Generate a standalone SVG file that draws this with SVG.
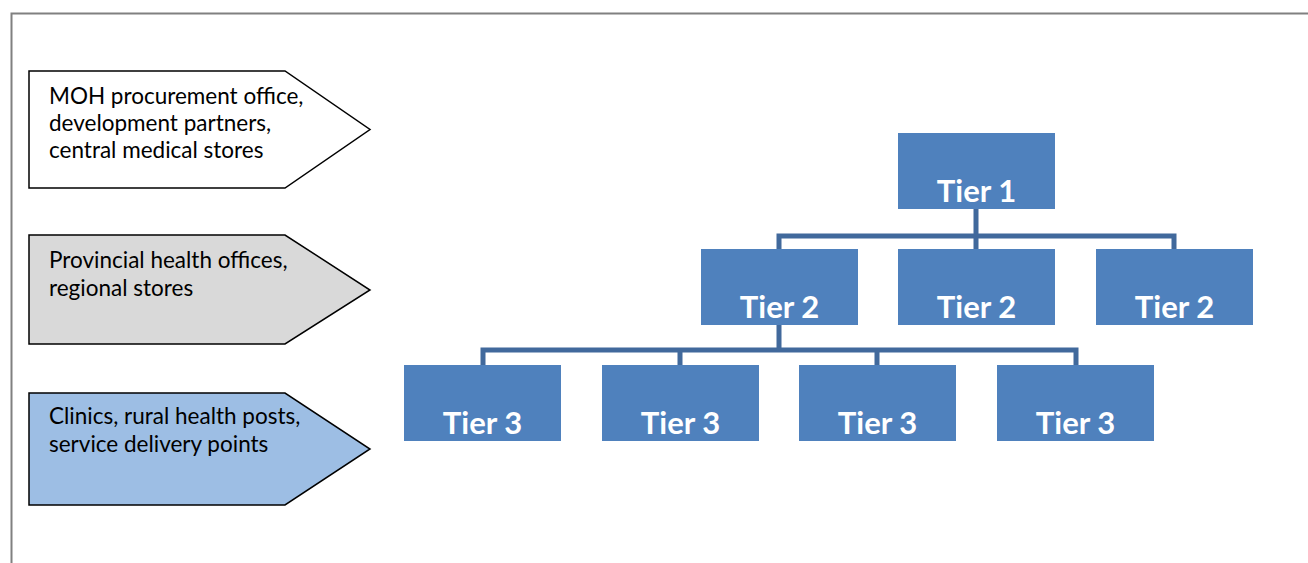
<svg xmlns="http://www.w3.org/2000/svg" width="1308" height="563" viewBox="0 0 1308 563">
<style>
.lbl{font-family:Lato,"Open Sans","Liberation Sans",sans-serif;font-size:22.5px;fill:#000}
.arrow{stroke:#000;stroke-width:1.5}
.tier rect{fill:#4f81bd}
.tier text{font-family:Lato,"Open Sans","Liberation Sans",sans-serif;font-size:31px;font-weight:bold;fill:#fff;text-anchor:middle}
.conn{fill:none;stroke:#41699c;stroke-width:5}
</style>
<rect width="1308" height="563" fill="#fff"/>
<path d="M11.5,563 V13.5 H1308" fill="none" stroke="#808080" stroke-width="2"/>
<g id="level1">
<polygon class="arrow" points="29,71 285,71 370,129.5 285,188 29,188" fill="#fff"/>
<text class="lbl" x="49" y="104">MOH procurement office,</text>
<text class="lbl" x="49" y="131">development partners,</text>
<text class="lbl" x="49" y="158">central medical stores</text>
</g>
<g id="level2">
<polygon class="arrow" points="29,235 285,235 370,290 285,344 29,344" fill="#d9d9d9"/>
<text class="lbl" x="49" y="268">Provincial health offices,</text>
<text class="lbl" x="49" y="296">regional stores</text>
</g>
<g id="level3">
<polygon class="arrow" points="29,393 285,393 370,449 285,505 29,505" fill="#9dbee4"/>
<text class="lbl" x="49" y="424">Clinics, rural health posts,</text>
<text class="lbl" x="49" y="452">service delivery points</text>
</g>
<g id="connectors">
<path class="conn" d="M976,209 V249 M779,249 V236 H1174 V249"/>
<path class="conn" d="M779,325 V350 M483,365 V350 H1076 V365 M680,350 V365 M877,350 V365"/>
</g>
<g id="tier1" class="tier"><rect x="898" y="133" width="157" height="76"/><text x="976.5" y="202">Tier 1</text></g>
<g id="tier2a" class="tier"><rect x="701" y="249" width="157" height="76"/><text x="779.5" y="318">Tier 2</text></g>
<g id="tier2b" class="tier"><rect x="898" y="249" width="157" height="76"/><text x="976.5" y="318">Tier 2</text></g>
<g id="tier2c" class="tier"><rect x="1096" y="249" width="157" height="76"/><text x="1174.5" y="318">Tier 2</text></g>
<g id="tier3a" class="tier"><rect x="404" y="365" width="157" height="76"/><text x="482.5" y="434">Tier 3</text></g>
<g id="tier3b" class="tier"><rect x="602" y="365" width="157" height="76"/><text x="680.5" y="434">Tier 3</text></g>
<g id="tier3c" class="tier"><rect x="799" y="365" width="157" height="76"/><text x="877.5" y="434">Tier 3</text></g>
<g id="tier3d" class="tier"><rect x="997" y="365" width="157" height="76"/><text x="1075.5" y="434">Tier 3</text></g>
</svg>
